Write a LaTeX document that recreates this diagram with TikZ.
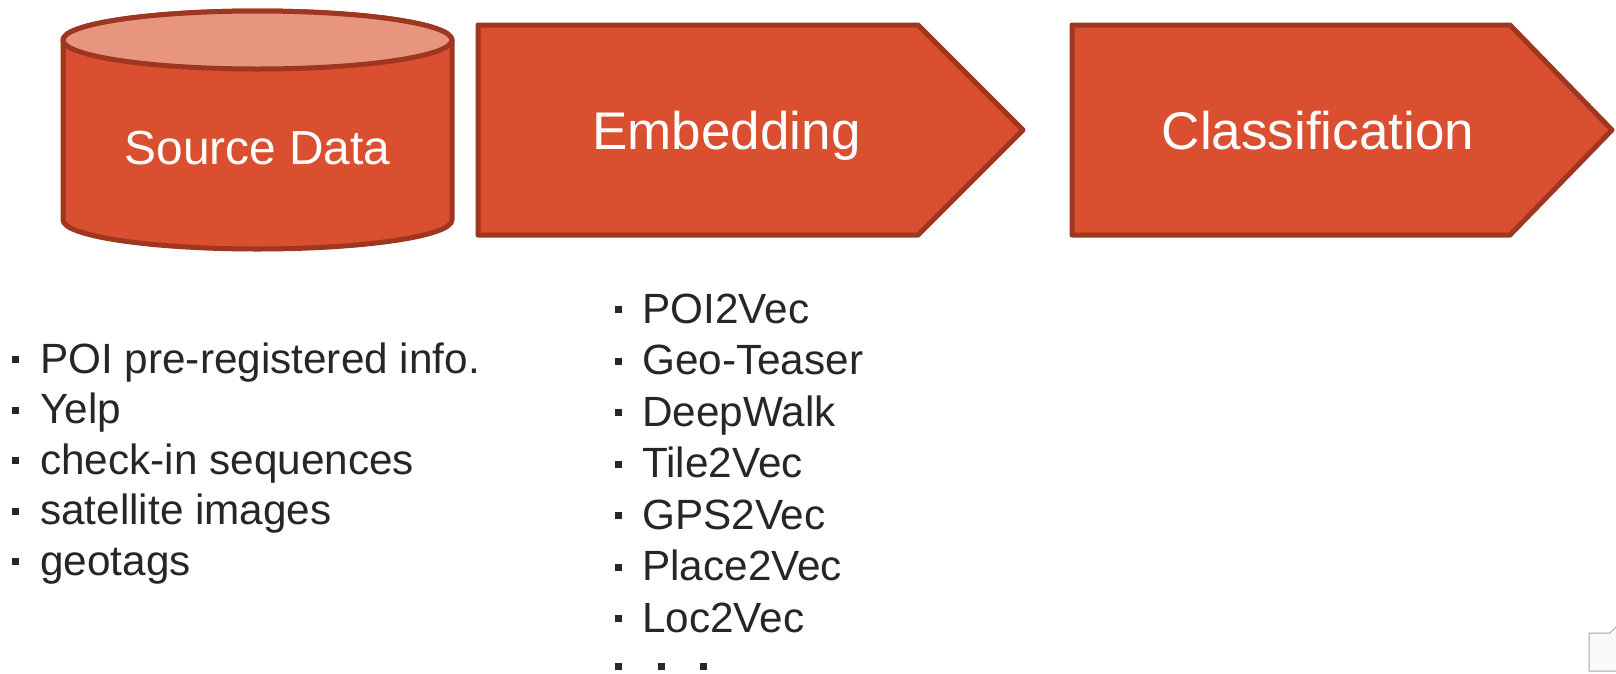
\documentclass[tikz,border=0pt]{standalone}
\usepackage{fontspec}
\setmainfont{Liberation Sans}
\definecolor{fillred}{HTML}{D94F2F}
\definecolor{topred}{HTML}{E89580}
\definecolor{edgered}{HTML}{9E3620}
\definecolor{txt}{HTML}{262626}
\newcommand\mybullet[1]{\rule[10pt]{7pt}{7pt}\hspace{#1}}
\begin{document}
\begin{tikzpicture}[x=1pt,y=-1pt,line join=round,
  shapeborder/.style={draw=edgered,line width=5pt,fill=fillred},
  topface/.style={draw=edgered,line width=5pt,fill=topred},
  stagetext/.style={text=white,inner sep=0pt,anchor=base},
  leftitem/.style={text=txt,inner sep=0pt,anchor=base west,font=\fontsize{42.3}{50}\selectfont},
  rightitem/.style={text=txt,inner sep=0pt,anchor=base west,font=\fontsize{42.3}{50}\selectfont}]
\useasboundingbox (0,0) rectangle (1616,673);
% cylinder
\draw[shapeborder] (63,40) -- (63,220)
  arc[start angle=180,end angle=360,x radius=194.5pt,y radius=29pt]
  -- (452,40)
  arc[start angle=0,end angle=180,x radius=194.5pt,y radius=29pt] -- cycle;
\draw[topface] (257.5,40) ellipse [x radius=194.5pt,y radius=29pt];
\node[stagetext,font=\fontsize{47.8}{56}\selectfont] (src) at (257.5,164) {Source Data};
% arrows
\draw[shapeborder] (478,25) -- (918,25) -- (1023,130) -- (918,235) -- (478,235) -- cycle;
\node[stagetext,font=\fontsize{53}{60}\selectfont] (emb) at (726.5,149) {Embedding};
\draw[shapeborder] (1072,25) -- (1510,25) -- (1612,130) -- (1510,235) -- (1072,235) -- cycle;
\node[stagetext,font=\fontsize{53}{60}\selectfont] (cls) at (1318,149.5) {Classification};
% left list
\node[leftitem] (l1) at (12,373) {\mybullet{21pt}POI pre-registered info.};
\node[leftitem] (l2) at (12,423.5) {\mybullet{21pt}Yelp};
\node[leftitem] (l3) at (12,474) {\mybullet{21pt}check-in sequences};
\node[leftitem] (l4) at (12,524.5) {\mybullet{21pt}satellite images};
\node[leftitem] (l5) at (12,575) {\mybullet{21pt}geotags};
% right list
\node[rightitem] (r1) at (615,323) {\mybullet{20pt}POI2Vec};
\node[rightitem] (r2) at (615,374.5) {\mybullet{20pt}Geo-Teaser};
\node[rightitem] (r3) at (615,426) {\mybullet{20pt}DeepWalk};
\node[rightitem] (r4) at (615,477.5) {\mybullet{20pt}Tile2Vec};
\node[rightitem] (r5) at (615,529) {\mybullet{20pt}GPS2Vec};
\node[rightitem] (r6) at (615,580.5) {\mybullet{20pt}Place2Vec};
\node[rightitem] (r7) at (615,632) {\mybullet{20pt}Loc2Vec};
\node[rightitem] (r8) at (615,680) {\mybullet{36pt}\mybullet{35pt}\rule[10pt]{7pt}{7pt}};
% corner mark
\fill[gray!4] (1589,633) rectangle (1616,673);
\draw[gray!70,line width=1pt] (1616,671) -- (1589,671) -- (1589,633) -- (1610,633) -- (1617,626);
\end{tikzpicture}
\end{document}
